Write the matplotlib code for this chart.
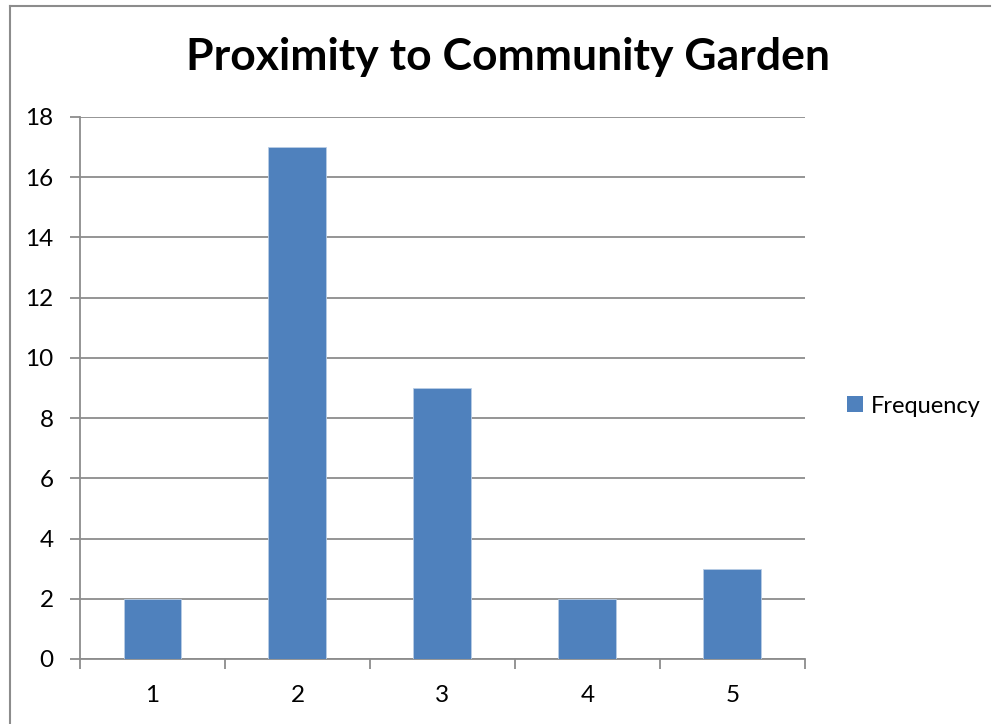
import matplotlib.pyplot as plt
from matplotlib.lines import Line2D
from matplotlib.patches import Patch
import numpy as np

plt.rcParams['font.family'] = ['Lato', 'DejaVu Sans']

categories = ['1', '2', '3', '4', '5']
frequency = [2, 17, 9, 2, 3]

bar_color = '#4F81BD'
grid_color = '#8C8C8C'

fig = plt.figure(figsize=(10, 7.24), dpi=100)
ax = fig.add_axes([0.08, 0.0898, 0.725, 0.7486])

x = np.arange(1, len(categories) + 1)
ax.bar(x, frequency, width=0.4, color=bar_color, edgecolor='#B9CDE5', linewidth=0.6, zorder=3)

ax.set_xlim(0.5, len(categories) + 0.5)
ax.set_ylim(0, 18)
ax.set_yticks(np.arange(0, 19, 2))
ax.yaxis.grid(True, color=grid_color, linewidth=1.3)
ax.set_axisbelow(True)

# category labels centred, tick marks on the boundaries between categories
ax.set_xticks(x)
ax.set_xticklabels(categories)
ax.set_xticks(np.arange(0.5, len(categories) + 1, 1), minor=True)
ax.tick_params(axis='x', which='major', length=0, pad=19, labelsize=17.5)
ax.tick_params(axis='x', which='minor', length=7, width=1.3, color=grid_color, direction='out')
ax.tick_params(axis='y', length=7, width=1.3, color=grid_color, direction='out', pad=12, labelsize=17.5)

for side in ['top', 'right']:
    ax.spines[side].set_visible(False)
for side in ['left', 'bottom']:
    ax.spines[side].set_color(grid_color)
    ax.spines[side].set_linewidth(1.3)

fig.text(0.508, 0.921, 'Proximity to Community Garden', ha='center', va='center',
         fontsize=32, fontweight='bold')

fig.legend(handles=[Patch(facecolor=bar_color, label='Frequency')],
           loc='center left', bbox_to_anchor=(0.826, 0.439), frameon=False,
           fontsize=17, handlelength=0.65, handleheight=0.65, handletextpad=0.35)

# outer chart border (top and left edges)
fig.add_artist(Line2D([0.010, 0.990], [1 - 6 / 724, 1 - 6 / 724], color='#8C8C8C', linewidth=1.5))
fig.add_artist(Line2D([0.010, 0.010], [0, 1 - 6 / 724], color='#8C8C8C', linewidth=1.5))

fig.savefig('out.png', dpi=100)
